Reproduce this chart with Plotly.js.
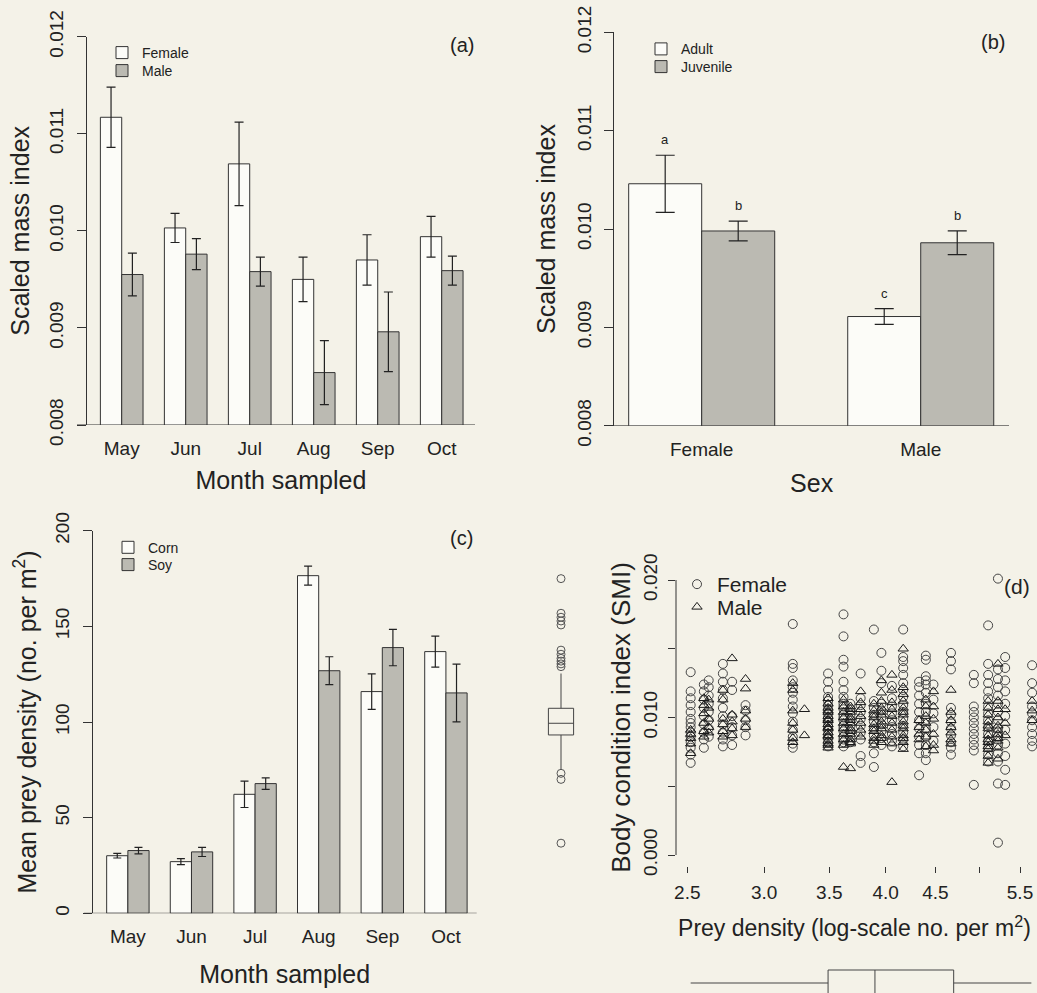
<!DOCTYPE html>
<html><head><meta charset="utf-8">
<script src="https://cdn.plot.ly/plotly-3.0.1.min.js"></script>
<style>html,body{margin:0;padding:0;background:#f4f2e8}</style>
</head><body><div id="chart" style="width:1037px;height:993px"></div>
<script>
// ---------- Panel (a): SMI by month and sex ----------
const months = ['May','Jun','Jul','Aug','Sep','Oct'];
const smiFemale = [0.01117,0.01003,0.01069,0.00950,0.00970,0.00994];
const smiFemaleErr = [0.00031,0.00015,0.00043,0.00023,0.00026,0.00021];
const smiMale = [0.00955,0.00976,0.00958,0.00854,0.00896,0.00959];
const smiMaleErr = [0.00022,0.00016,0.00015,0.00033,0.00041,0.00015];
// ---------- Panel (b): SMI by sex and age ----------
const sexes = ['Female','Male'];
const smiAdult = [0.01046,0.00911];
const smiAdultErr = [0.00029,0.00008];
const smiJuvenile = [0.00998,0.00986];
const smiJuvenileErr = [0.00010,0.00012];
const adultLetters = ['a','c'];
const juvenileLetters = ['b','b'];
// ---------- Panel (c): prey density by month and crop ----------
const preyCorn = [30.1,27.0,62.2,176.5,115.9,136.8];
const preyCornErr = [1.2,1.6,6.9,5.0,9.3,8.1];
const preySoy = [32.8,32.1,67.8,126.8,138.9,115.2];
const preySoyErr = [1.7,2.4,3.0,7.3,9.5,15.1];
// ---------- Panel (d): SMI vs prey density ----------
const colDensity = [2.52,2.60,2.63,2.72,2.78,2.87,3.21,3.30,3.49,3.62,3.68,3.77,3.89,3.96,4.06,4.17,4.33,4.40,4.48,4.67,4.93,5.10,5.22,5.31,5.66];
const femaleSMI = [
 [0.0133,0.0119,0.0114,0.0109,0.0104,0.0099,0.0096,0.0093,0.0089,0.0086,0.0082,0.0078,0.0073,0.0067],
 [0.0124,0.0119,0.0113,0.0107,0.0101,0.0095,0.0089,0.0084,0.0078],
 [0.0127,0.0122,0.0116,0.0110,0.0104,0.0098,0.0092,0.0086],
 [0.0139,0.0132,0.0126,0.0120,0.0114,0.0107,0.0101,0.0095,0.0089,0.0084,0.0079],
 [0.0126,0.0120,0.0101,0.0093,0.0087,0.0080],
 [0.0109,0.0105,0.0098,0.0093,0.0087],
 [0.0168,0.0139,0.0136,0.0127,0.0122,0.0118,0.0113,0.0108,0.0103,0.0097,0.0091,0.0086,0.0081,0.0078],
 [],
 [0.0132,0.0126,0.0120,0.0115,0.0112,0.0109,0.0106,0.0103,0.0100,0.0097,0.0094,0.0091,0.0088,0.0085,0.0082,0.0079],
 [0.0175,0.0159,0.0142,0.0137,0.0126,0.0120,0.0115,0.0110,0.0108,0.0106,0.0102,0.0100,0.0098,0.0094,0.0092,0.0090,0.0086,0.0084,0.0082,0.0079],
 [0.0110,0.0106,0.0102,0.0098,0.0094,0.0090,0.0086,0.0082],
 [0.0132,0.0114,0.0109,0.0104,0.0099,0.0094,0.0089,0.0084,0.0072,0.0067],
 [0.0164,0.0112,0.0107,0.0102,0.0097,0.0092,0.0087,0.0082,0.0074,0.0064],
 [0.0147,0.0134,0.0125,0.0110,0.0105,0.0100,0.0095,0.0090,0.0085,0.0080],
 [0.0123,0.0114,0.0108,0.0103,0.0098,0.0093,0.0088,0.0083,0.0079],
 [0.0164,0.0144,0.0141,0.0136,0.0131,0.0125,0.0120,0.0115,0.0109,0.0104,0.0099,0.0094,0.0089,0.0084,0.0079],
 [0.0126,0.0122,0.0116,0.0110,0.0104,0.0098,0.0092,0.0086,0.0080,0.0074,0.0058],
 [0.0145,0.0142,0.0130,0.0127,0.0124,0.0118,0.0110,0.0104,0.0098,0.0092,0.0086,0.0080,0.0074,0.0069],
 [0.0124,0.0113,0.0103,0.0093,0.0083],
 [0.0147,0.0141,0.0135,0.0107,0.0102,0.0097,0.0092,0.0087,0.0082,0.0078,0.0073],
 [0.0131,0.0125,0.0108,0.0104,0.0100,0.0096,0.0092,0.0088,0.0084,0.0080,0.0076,0.0051],
 [0.0167,0.0139,0.0131,0.0125,0.0119,0.0114,0.0108,0.0103,0.0098,0.0093,0.0088,0.0083,0.0078,0.0073,0.0068],
 [0.0201,0.0135,0.0128,0.0122,0.0116,0.0110,0.0104,0.0098,0.0092,0.0086,0.0080,0.0074,0.0068,0.0052,0.0009],
 [0.0144,0.0136,0.0127,0.0119,0.0110,0.0101,0.0091,0.0081,0.0072,0.0062,0.0051],
 [0.0138,0.0125,0.0118,0.0108,0.0103,0.0098,0.0093,0.0088,0.0083,0.0079]
];
const maleSMI = [
 [0.0091,0.0088,0.0085,0.0081,0.0074],
 [0.0114,0.0109,0.0103,0.0096,0.0090,0.0086],
 [0.0113,0.0107,0.0099,0.0093,0.0089],
 [0.0120,0.0113,0.0099,0.0095,0.0090,0.0086],
 [0.0143,0.0102,0.0097,0.0092,0.0087],
 [0.0128,0.0121,0.0105,0.0099,0.0093],
 [0.0125,0.0120,0.0105,0.0096,0.0091,0.0085,0.0082],
 [0.0106,0.0087],
 [0.0114,0.0110,0.0107,0.0105,0.0104,0.0101,0.0099,0.0098,0.0095,0.0093,0.0092,0.0089,0.0087,0.0086,0.0083,0.0081,0.0080,0.0078],
 [0.0113,0.0108,0.0104,0.0100,0.0096,0.0092,0.0088,0.0084,0.0080,0.0064],
 [0.0108,0.0106,0.0104,0.0100,0.0098,0.0096,0.0092,0.0090,0.0088,0.0084,0.0082,0.0081,0.0063],
 [0.0119,0.0111,0.0106,0.0101,0.0096,0.0091,0.0086],
 [0.0110,0.0105,0.0102,0.0100,0.0095,0.0092,0.0090,0.0085,0.0083,0.0080],
 [0.0127,0.0118,0.0112,0.0107,0.0104,0.0102,0.0097,0.0094,0.0092,0.0087,0.0085,0.0082],
 [0.0131,0.0120,0.0111,0.0106,0.0101,0.0096,0.0091,0.0086,0.0081,0.0053],
 [0.0150,0.0122,0.0117,0.0112,0.0107,0.0104,0.0102,0.0097,0.0094,0.0092,0.0087,0.0085,0.0082,0.0077],
 [0.0098,0.0093,0.0088,0.0084],
 [0.0113,0.0108,0.0101,0.0096,0.0091,0.0086,0.0079],
 [0.0119,0.0108,0.0099,0.0088,0.0080,0.0076],
 [0.0120,0.0104,0.0098,0.0093,0.0089,0.0084,0.0081],
 [],
 [0.0112,0.0107,0.0102,0.0097,0.0094,0.0092,0.0087,0.0084,0.0082,0.0079,0.0077,0.0072,0.0067],
 [0.0139,0.0112,0.0106,0.0100,0.0094,0.0091,0.0088,0.0085,0.0083,0.0078,0.0070],
 [0.0106,0.0096,0.0087],
 [0.0112,0.0105,0.0098]
];
// marginal boxplot of SMI (left) and prey density (bottom)
const smiBox = {q1:0.00873, median:0.00958, q3:0.01067, lo:0.00620, hi:0.01320};
const smiOutliers = [0.0201,0.01758,0.01729,0.01702,0.01673,0.0149,0.0146,0.0143,0.0141,0.0139,0.0137,0.00594,0.00550,0.00086];
const preyBox = {q1:3.49, median:3.90, q3:4.70, lo:2.52, hi:5.65};
const dTicks = [2.5,3.0,3.5,4.0,4.5,5.5];
const dTickText = ['2.5','3.0','3.5','4.0','4.5','5.5'];
const dMinorTicks = [5.0];
const smiDTicks = [0, 0.010, 0.020];
const smiDMinorTicks = [0.005, 0.015];

// ---------- geometry helpers ----------
const W = 1037, H = 993;
const fx = p => p / W;
const fy = p => 1 - p / H;
const FONT = 'Liberation Sans, Arial, Helvetica, sans-serif';
const INK = '#222';
const WHITE = '#fcfcf8';
const GREY = '#bbbab2';
const EDGE = '#333';

function flatten(cols, vals) {
  const xs = [], ys = [];
  vals.forEach((arr, i) => arr.forEach(v => { xs.push(cols[i]); ys.push(v); }));
  return {xs, ys};
}
const fem = flatten(colDensity, femaleSMI);
const mal = flatten(colDensity, maleSMI);

function barTrace(x, y, err, fill, name, xa, ya, legend, capw) {
  return {type:'bar', x:x, y:y, name:name, xaxis:xa, yaxis:ya, legend:legend,
    marker:{color:fill, line:{color:EDGE, width:1}},
    error_y:{type:'data', array:err, visible:true, color:INK, thickness:1.2, width:capw},
    hoverinfo:'skip'};
}

const traces = [
  barTrace(months, smiFemale, smiFemaleErr, WHITE, 'Female', 'x', 'y', 'legend', 4.5),
  barTrace(months, smiMale, smiMaleErr, GREY, 'Male', 'x', 'y', 'legend2', 4.5),
  barTrace(sexes, smiAdult, smiAdultErr, WHITE, 'Adult', 'x2', 'y2', 'legend3', 9.5),
  barTrace(sexes, smiJuvenile, smiJuvenileErr, GREY, 'Juvenile', 'x2', 'y2', 'legend4', 9.5),
  barTrace(months, preyCorn, preyCornErr, WHITE, 'Corn', 'x3', 'y3', 'legend5', 4),
  barTrace(months, preySoy, preySoyErr, GREY, 'Soy', 'x3', 'y3', 'legend6', 4),
  {type:'scatter', mode:'markers', x:fem.xs, y:fem.ys, name:'Female', xaxis:'x4', yaxis:'y4', legend:'legend7',
    marker:{symbol:'circle-open', size:9, color:'#444', line:{width:1}}, cliponaxis:false, hoverinfo:'skip'},
  {type:'scatter', mode:'markers', x:mal.xs, y:mal.ys, name:'Male', xaxis:'x4', yaxis:'y4', legend:'legend8',
    marker:{symbol:'triangle-up-open', size:9, color:'#1a1a1a', line:{width:1}}, cliponaxis:false, hoverinfo:'skip'},
  {type:'box', x:[0], q1:[smiBox.q1], median:[smiBox.median], q3:[smiBox.q3],
    lowerfence:[smiBox.lo], upperfence:[smiBox.hi], xaxis:'x5', yaxis:'y4', width:0.6,
    fillcolor:'rgba(0,0,0,0)', line:{color:'#444', width:1}, whiskerwidth:0, showlegend:false, hoverinfo:'skip'},
  {type:'scatter', mode:'markers', x:smiOutliers.map(() => 0), y:smiOutliers, xaxis:'x5', yaxis:'y4',
    marker:{symbol:'circle-open', size:8, color:'#555', line:{width:1}}, showlegend:false, cliponaxis:false, hoverinfo:'skip'},
  {type:'box', orientation:'h', y:[0], q1:[preyBox.q1], median:[preyBox.median], q3:[preyBox.q3],
    lowerfence:[preyBox.lo], upperfence:[preyBox.hi], xaxis:'x4', yaxis:'y5', width:0.65,
    fillcolor:'rgba(0,0,0,0)', line:{color:'#444', width:1}, whiskerwidth:0, showlegend:false, hoverinfo:'skip'}
];

const tickFont = {family:FONT, size:19, color:INK};
const titleFont = {family:FONT, size:25, color:INK};

function catX(dom, range, title, standoff) {
  return {domain:dom, range:range, type:'category', showgrid:false, zeroline:false, showline:false,
    ticks:'', tickfont:tickFont, ticklabelstandoff:10, fixedrange:true,
    title:{text:title, font:titleFont, standoff:standoff}};
}
function valY(dom, range, tickvals, ticktext, title, standoff) {
  return {domain:dom, range:range, tickvals:tickvals, ticktext:ticktext, tickangle:-90,
    showgrid:false, zeroline:false, showline:true, linecolor:EDGE, linewidth:1,
    ticks:'outside', ticklen:9, tickcolor:EDGE, tickfont:tickFont, ticklabelstandoff:6, fixedrange:true,
    title:{text:title, font:titleFont, standoff:standoff}};
}
const smiTicks = [0.008,0.009,0.010,0.011,0.012];
const smiTickText = smiTicks.map(v => v.toFixed(3));
const preyTicks = [0,50,100,150,200];

function legendBox(px, py, size) {
  return {x:fx(px), y:fy(py), xanchor:'left', yanchor:'top', bgcolor:'rgba(0,0,0,0)', borderwidth:0,
    font:{family:FONT, size:size, color:INK}, itemclick:false, itemdoubleclick:false, tracegroupgap:0};
}
function panelLabel(text, px, py, size) {
  return {text:text, xref:'paper', yref:'paper', x:fx(px), y:fy(py), xanchor:'center', yanchor:'middle',
    showarrow:false, font:{family:FONT, size:size, color:INK}};
}
const annotations = [
  panelLabel('(a)', 461.7, 45, 20),
  panelLabel('(b)', 993, 42, 20),
  panelLabel('(c)', 461.7, 538, 20),
  panelLabel('(d)', 1017, 586, 21)
];
const groupOffset = 1/6;
sexes.forEach((s, i) => {
  annotations.push({text:adultLetters[i], xref:'x2', yref:'y2', x:i - groupOffset, y:smiAdult[i] + smiAdultErr[i],
    yanchor:'bottom', yshift:6, showarrow:false, font:{family:FONT, size:13, color:INK}});
  annotations.push({text:juvenileLetters[i], xref:'x2', yref:'y2', x:i + groupOffset, y:smiJuvenile[i] + smiJuvenileErr[i],
    yanchor:'bottom', yshift:6, showarrow:false, font:{family:FONT, size:13, color:INK}});
});

const lineStyle = {color:EDGE, width:1};
const shapes = [
  {type:'line', xref:'x domain', yref:'y', x0:-0.025, x1:1, y0:smiTicks[0], y1:smiTicks[0], line:lineStyle},
  {type:'line', xref:'x2 domain', yref:'y2', x0:-0.024, x1:1, y0:smiTicks[0], y1:smiTicks[0], line:lineStyle},
  {type:'line', xref:'x3 domain', yref:'y3', x0:-0.023, x1:1, y0:preyTicks[0], y1:preyTicks[0], line:lineStyle},
  {type:'line', xref:'x4', yref:'y4 domain', x0:Math.log10(dTicks[0]), x1:Math.log10(dTicks[dTicks.length-1]), y0:0, y1:0, line:lineStyle},
  {type:'line', xref:'x4 domain', yref:'y4', x0:0, x1:0, y0:smiDTicks[0], y1:smiDTicks[smiDTicks.length-1], line:lineStyle}
];

const layout = {
  width:W, height:H, margin:{l:0, r:0, t:0, b:0},
  paper_bgcolor:'#f4f2e8', plot_bgcolor:'rgba(0,0,0,0)',
  font:{family:FONT, color:INK},
  barmode:'group', bargap:1/3, bargroupgap:0,
  xaxis: catX([fx(86.7), fx(475)], [-0.547, 5.52], 'Month sampled', 13),
  yaxis: valY([fy(425), fy(36.7)], [0.008, 0.012], smiTicks, smiTickText, 'Scaled mass index', 9),
  xaxis2: Object.assign(catX([fx(614.3), fx(1009)], [-0.399, 1.403], 'Sex', 15), {anchor:'y2'}),
  yaxis2: Object.assign(valY([fy(425.7), fy(32.3)], [0.008, 0.012], smiTicks, smiTickText, 'Scaled mass index', 10), {anchor:'x2'}),
  xaxis3: Object.assign(catX([fx(92.7), fx(476.7)], [-0.553, 5.484], 'Month sampled', 19), {anchor:'y3'}),
  yaxis3: Object.assign(valY([fy(913.3), fy(530.7)], [0, 200], preyTicks, preyTicks.map(String), 'Mean prey density (no. per m<sup>2</sup>)', 8), {anchor:'x3'}),
  xaxis4: {domain:[fx(676), fx(1033)], anchor:'y4', type:'log', range:[0.38631, 0.75374],
    tickvals:dTicks, ticktext:dTickText, showgrid:false, zeroline:false, showline:false,
    ticks:'outside', ticklen:6, tickcolor:EDGE, tickfont:tickFont, ticklabelstandoff:3, fixedrange:true,
    minor:{tickvals:dMinorTicks, ticks:'outside', ticklen:6, tickcolor:EDGE, showgrid:false},
    title:{text:'Prey density (log-scale no. per m<sup>2</sup>)', font:{family:FONT, size:23, color:INK}, standoff:18}},
  yaxis4: {domain:[fy(866), fy(569)], anchor:'x4', range:[-0.0008, 0.0208],
    tickvals:smiDTicks, ticktext:smiDTicks.map(v => v.toFixed(3)), tickangle:-90,
    showgrid:false, zeroline:false, showline:false, ticks:'outside', ticklen:7, tickcolor:EDGE,
    minor:{tickvals:smiDMinorTicks, ticks:'outside', ticklen:7, tickcolor:EDGE, showgrid:false},
    tickfont:tickFont, ticklabelstandoff:3, fixedrange:true,
    title:{text:'Body condition index (SMI)', font:{family:FONT, size:26, color:INK}, standoff:2}},
  xaxis5: {domain:[fx(540), fx(582)], anchor:'y4', range:[-0.5, 0.5], visible:false, fixedrange:true},
  yaxis5: {domain:[0, fy(953)], anchor:'x4', range:[-0.25, 0.75], visible:false, fixedrange:true},
  legend:  legendBox(102, 37, 14),
  legend2: legendBox(102, 55, 14),
  legend3: legendBox(641, 33.3, 14),
  legend4: legendBox(641, 51, 14),
  legend5: legendBox(108, 531.7, 14),
  legend6: legendBox(108, 549, 14),
  legend7: legendBox(677, 564, 21),
  legend8: legendBox(677, 586.7, 21),
  annotations: annotations,
  shapes: shapes
};

Plotly.newPlot('chart', traces, layout, {displayModeBar:false, staticPlot:true});
</script>
</body></html>
